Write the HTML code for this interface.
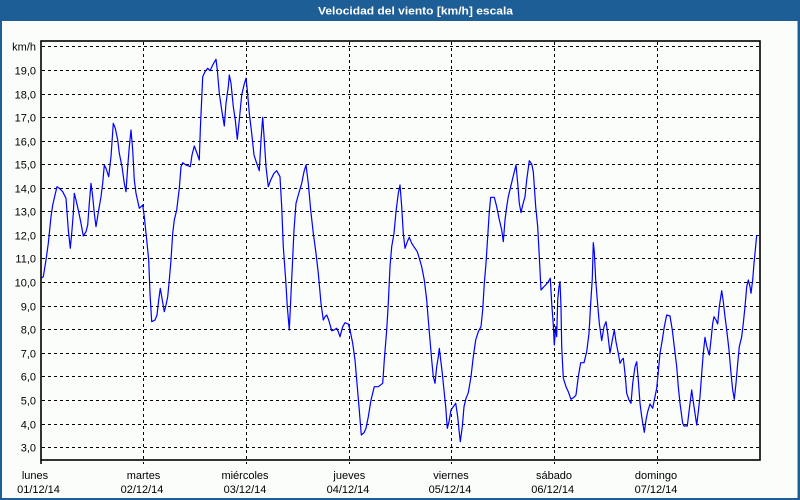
<!DOCTYPE html>
<html><head><meta charset="utf-8"><style>
html,body{margin:0;padding:0;width:800px;height:500px;overflow:hidden;background:#1d5e96;}
svg{display:block;}
text{font-family:"Liberation Sans",Tahoma,sans-serif;}
</style></head><body>
<svg width="800" height="500" viewBox="0 0 800 500" xmlns="http://www.w3.org/2000/svg">
<rect x="0" y="0" width="800" height="500" fill="#1d5e96"/>
<rect x="2" y="21" width="795.5" height="477" fill="#fbfdfb"/>
<text x="318" y="14.5" fill="#ffffff" font-size="11" font-weight="bold" textLength="195" lengthAdjust="spacingAndGlyphs">Velocidad del viento [km/h] escala</text>

<g stroke="#000" stroke-width="1" stroke-dasharray="3,3" fill="none">
<line x1="42" y1="46.5" x2="759" y2="46.5"/>
<line x1="42" y1="70.5" x2="759" y2="70.5"/>
<line x1="42" y1="94.5" x2="759" y2="94.5"/>
<line x1="42" y1="117.5" x2="759" y2="117.5"/>
<line x1="42" y1="141.5" x2="759" y2="141.5"/>
<line x1="42" y1="164.5" x2="759" y2="164.5"/>
<line x1="42" y1="188.5" x2="759" y2="188.5"/>
<line x1="42" y1="211.5" x2="759" y2="211.5"/>
<line x1="42" y1="235.5" x2="759" y2="235.5"/>
<line x1="42" y1="258.5" x2="759" y2="258.5"/>
<line x1="42" y1="282.5" x2="759" y2="282.5"/>
<line x1="42" y1="306.5" x2="759" y2="306.5"/>
<line x1="42" y1="329.5" x2="759" y2="329.5"/>
<line x1="42" y1="353.5" x2="759" y2="353.5"/>
<line x1="42" y1="376.5" x2="759" y2="376.5"/>
<line x1="42" y1="400.5" x2="759" y2="400.5"/>
<line x1="42" y1="424.5" x2="759" y2="424.5"/>
<line x1="42" y1="447.5" x2="759" y2="447.5"/>
<line x1="143.5" y1="42" x2="143.5" y2="464"/>
<line x1="246.5" y1="42" x2="246.5" y2="464"/>
<line x1="349.5" y1="42" x2="349.5" y2="464"/>
<line x1="451.5" y1="42" x2="451.5" y2="464"/>
<line x1="554.5" y1="42" x2="554.5" y2="464"/>
<line x1="657.5" y1="42" x2="657.5" y2="464"/>
</g>
<line x1="41" y1="460" x2="41" y2="464" stroke="#000" stroke-width="1.5"/>

<polyline fill="none" stroke="#0000ff" stroke-width="1.2" stroke-linejoin="round" points="
41,278.3 43.3,276.7 46,260 48.3,243.3 51,216.7 52.7,205 55,195 57,186.7 59.3,188.3 62.7,191.7 66,198.3 68.3,230 70.3,248.3 72,230 73.3,213.3 74.3,193.3 76,200 78.3,210 81,223.3 83.3,236 86,231.7 87.7,225 89.3,203.3 91,183.3 92.7,196.7 94.3,213.3 96,226.7 98.7,210 101,196.7 102.7,183.3 104.3,165 106,168.3 108.7,176.7 111,156.7 113.3,123.3 115.3,128.3 117.7,140 119.3,153.3 122,166.7 124.3,183.3 126,191.7 127.7,166.7 129.3,146.7 131,130 132.7,150 134.3,180 136,193.3 139.3,208.3 142.7,205 144.3,216.7 146.7,240 148.7,260 150,293.3 151.7,321.7 155,320 157,315 158.7,300 160.3,288.3 162,298.3 164.3,311.7 166,305 167.7,296.7 169.3,280 171,260 172.7,233.3 174.3,220 176.7,210 179.3,188.3 181,166.7 182.7,162.7 186,165 190.3,166.7 192,155 194.3,146 197,153.3 199.3,160 200.3,130 202.7,76.7 205,71.7 207.7,68.3 210,70.7 212.7,65 216,59.3
217.3,70 219.3,93.3 221.7,110 224.3,126 226,103.3 228.3,86.7 229.3,75 231,83.3 233.3,106.7 235.3,120 237.3,139.3 239.3,120 241.7,95 244,85 246,78.3 247.3,90 249.3,113.3 251.7,133.3 254,155 256.7,163.3 259.3,170.7 261,140 262.7,117.3 264.3,140 266,166.7 268.3,186.7 270.7,180 274,173.3 276.7,170.7 280,176.7 281.7,206.7 283.3,246.7 285.7,280 287.3,306.7 289.3,330 290.7,300 292.3,266.7 294,230 296,203.3 298.3,195 301.7,183.3 304,171.7 306,165 308.3,183.3 310.7,210 313.3,233.3 316,253.3 318.3,273.3 321,303.3 323.3,320 325,316.7 326.7,315 328.7,320 331.7,330.7 334,330 336.7,328.3 338.3,331.7 340,336.7 342.7,326.7 345,322.7 348.3,324 350,330 352.7,343.3 355,360 356.7,380 359,406.7 361.3,435 364,432.7 366,428.3 368.3,416.7 371,400 374.3,386.7 378.3,386.7 382.7,383.3 384.3,360 386.7,330 388.3,303.3 390,266.7 391.7,246.7 394,233.3 396,211.7 398.3,193.3 400,185 401.7,206.7 403.3,233.3 405,248.3 407.3,241.7 409.3,237.3 411.7,243.3 414.3,247.3 417.3,251.7 419.3,258.3 421.7,266.7 424.3,280 426.7,300 428.3,320 430,340 431.7,360 433.3,376.7 435,383.3 436.7,366.7 438.3,356.7 439.3,348.3 440.7,360 442.3,373.3 444.3,393.3 445.7,406.7 447.3,428.3 449,421.7 451,410 453.3,406.7 455.7,403.3 457.7,416.7 459,430 460.3,441.7 462.3,426.7 464,406.7 466,398.3 468.3,392.7 471,376.7 473.3,356.7 475.7,340 478.3,331.7 481,326.7 482.7,310 484.3,283.3 486,263.3 487.7,236.7 489.3,211.7 490.7,197.3 494.3,197.3 496.7,206.7 499,218.3 501.7,230 503.3,241.7 505,220 506.7,206.7 508.3,196.7 510.7,186.7 512.7,178.3 516,165 517.7,183.3 519.3,203.3 521,212.7 522.7,205 525,196.7 526.7,180 529.3,160.7 531.7,164 533.3,171.7 535.7,206.7 537.7,226.7 539.3,256.7 541,290 543.3,287.3 545.7,285 548.3,281.7 550.3,278.3 551.7,303.3 553.3,325 554.3,345 555.7,326.7 556.7,336.7 557.7,300 559,286.7 560,281.7 561,306.7 561.7,346.7 563.3,378 566,386.7 568.3,391.7 571,399.3 574,397.3 576,395 578.3,376.7 580.7,362.7 584,362.7 586.7,351.7 589,333.3 590.7,303.3 592.3,278.3 593.3,242.7 594.3,251.7 595.7,280 597.3,300 599.3,323.3 601.7,340.7 604,326.7 606,321.7 607.7,333.3 610,353.3 612.3,340 614.3,330 616,341.7 618.3,353.3 620,363.3 621.7,360 623.3,358.3 625,373.3 626.7,393.3 629,400 631,403.3 632.7,383.3 635,366.7 636.7,361.7 638.3,380 640,403.3 641.7,416.7 644.3,432.3 646,420 647.7,411.7 650,404 652.7,408.3 654.3,400 656.7,388.3 658.3,371.7 660,353.3 662.3,340 664.3,326.7 666.7,315 670,316 672.3,330 674.3,346.7 676.7,366.7 678.3,386.7 680,403.3 682.7,423.3 684,426 687.3,426 689,411.7 691.7,390 693.3,401.7 695,413.3 696.7,425 698.3,411.7 700,396.7 701.7,373.3 703.3,353.3 705,337.3 706.7,346 708.3,351.7 709.3,355 711,340 712.7,323.3 714,316.7 716,320 717.7,324 719.3,306.7 721.7,290.7 723.3,301.7 725,316.7 726.7,330 729,350 731,373.3 732.7,390 734.3,399.3 736,383.3 737.7,363.3 739.3,346.7 741.7,336.7 743.3,323.3 745,306.7 746.7,286.7 748.3,280 750,286.7 751,293.3 752.7,280 754,263.3 755.3,250 756.7,235"/>

<rect x="41" y="41" width="719" height="419" fill="none" stroke="#000" stroke-width="1.6"/>

<g font-size="11" fill="#000" text-anchor="end">
<text x="36" y="50.5">km/h</text>
<text x="36" y="74.5">19,0</text>
<text x="36" y="98.5">18,0</text>
<text x="36" y="121.5">17,0</text>
<text x="36" y="145.5">16,0</text>
<text x="36" y="168.5">15,0</text>
<text x="36" y="192.5">14,0</text>
<text x="36" y="215.5">13,0</text>
<text x="36" y="239.5">12,0</text>
<text x="36" y="262.5">11,0</text>
<text x="36" y="286.5">10,0</text>
<text x="36" y="310.5">9,0</text>
<text x="36" y="333.5">8,0</text>
<text x="36" y="357.5">7,0</text>
<text x="36" y="380.5">6,0</text>
<text x="36" y="404.5">5,0</text>
<text x="36" y="428.5">4,0</text>
<text x="36" y="451.5">3,0</text>
</g>

<g font-size="11" fill="#000" text-anchor="middle">
<text x="35" y="479">lunes</text>
<text x="38.5" y="493">01/12/14</text>
<text x="143.5" y="479">martes</text>
<text x="142" y="493">02/12/14</text>
<text x="245" y="479">miércoles</text>
<text x="245" y="493">03/12/14</text>
<text x="349.3" y="479">jueves</text>
<text x="348" y="493">04/12/14</text>
<text x="451" y="479">viernes</text>
<text x="450" y="493">05/12/14</text>
<text x="554" y="479">sábado</text>
<text x="552.7" y="493">06/12/14</text>
<text x="656" y="479">domingo</text>
<text x="656" y="493">07/12/14</text>
</g>
</svg>
</body></html>
